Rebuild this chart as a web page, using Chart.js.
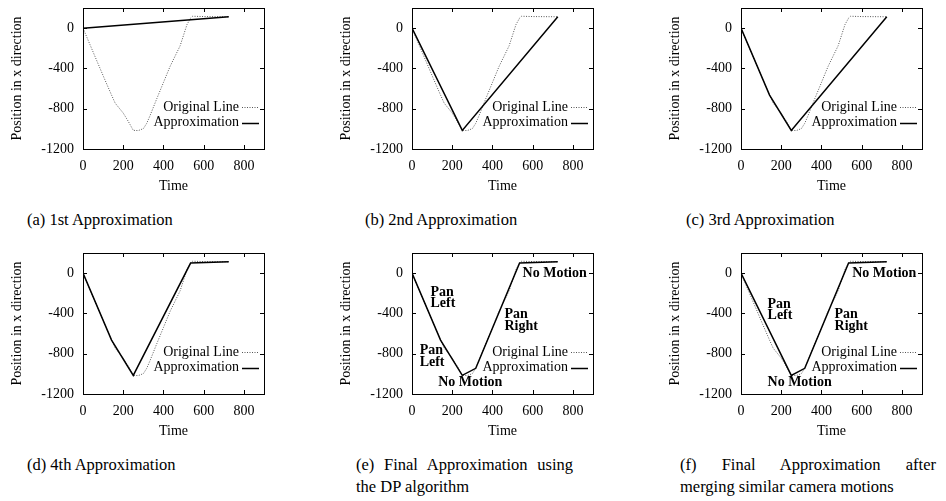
<!DOCTYPE html>
<html><head><meta charset="utf-8">
<script src="https://cdn.jsdelivr.net/npm/chart.js@4.4.0/dist/chart.umd.min.js"></script>
<style>
html,body{margin:0;padding:0;background:#fff;}
body{width:946px;height:501px;overflow:hidden;position:relative;font-family:"Liberation Serif","Times New Roman",serif;color:#000;}
canvas{position:absolute;}
.cap{position:absolute;font-size:16.5px;line-height:22px;white-space:nowrap;}
.just{text-align:justify;text-align-last:justify;white-space:normal;}
</style></head><body>
<canvas id="ca" width="288" height="195" style="left:0px;top:0px"></canvas>
<canvas id="cb" width="288" height="195" style="left:329px;top:0px"></canvas>
<canvas id="cc" width="288" height="195" style="left:658px;top:0px"></canvas>
<canvas id="cd" width="288" height="195" style="left:0px;top:245px"></canvas>
<canvas id="ce" width="288" height="195" style="left:329px;top:245px"></canvas>
<canvas id="cf" width="288" height="195" style="left:658px;top:245px"></canvas>

<div class="cap" style="left:27px;top:209px">(a) 1st Approximation</div>
<div class="cap" style="left:365px;top:209px">(b) 2nd Approximation</div>
<div class="cap" style="left:686px;top:209px">(c) 3rd Approximation</div>
<div class="cap" style="left:27px;top:454px">(d) 4th Approximation</div>
<div class="cap just" style="left:356px;top:454px;width:217px">(e) Final Approximation using</div>
<div class="cap" style="left:356px;top:476px">the DP algorithm</div>
<div class="cap just" style="left:680px;top:454px;width:256px">(f) Final Approximation after</div>
<div class="cap" style="left:680px;top:476px">merging similar camera motions</div>

<script>
// ---- data ----
const xTicks = [0, 200, 400, 600, 800];
const yTicks = [-1200, -800, -400, 0];
const seriesNames = ['Original Line', 'Approximation'];

const origX = [0, 35, 70, 105, 142, 160, 200, 225, 250, 275, 300, 317, 333, 367, 400, 433, 483, 517, 535, 545, 600, 725];
const origY = [0, -165, -330, -495, -665, -745, -843, -925, -1015, -1017, -998, -945, -870, -700, -540, -380, -175, 35, 100, 118, 115, 113];

const approxAX = [0, 725];
const approxAY = [0, 113];
const approxBX = [0, 250, 725];
const approxBY = [0, -1015, 113];
const approxCX = [0, 142, 250, 725];
const approxCY = [0, -665, -1015, 113];
const approxDX = [0, 142, 250, 535, 725];
const approxDY = [0, -665, -1015, 100, 113];
const approxEX = [0, 142, 250, 317, 535, 725];
const approxEY = [0, -665, -1015, -945, 100, 113];
const approxFX = [0, 250, 317, 535, 725];
const approxFY = [0, -1015, -945, 100, 113];

const labelsE = ['Pan', 'Left', 'Pan', 'Left', 'No Motion', 'Pan', 'Right', 'No Motion'];
const labelsEX = [92, 92, 38, 38, 130, 460, 460, 550];
const labelsEY = [-187, -303, -770, -883, -1087, -410, -527, -3];
const labelsF = ['Pan', 'Left', 'Pan', 'Right', 'No Motion', 'No Motion'];
const labelsFX = [132, 132, 465, 465, 553, 132];
const labelsFY = [-310, -420, -410, -527, -3, -1087];

// legend rows (data y of row centres)
const legendRowY = [-787, -937];

// ---- drawing ----
const FONT = '"Liberation Serif","Times New Roman",serif';

const framePlugin = {
  id: 'frame',
  afterDraw(chart) {
    const {ctx, chartArea: a, scales: {x, y}} = chart;
    ctx.save();
    ctx.strokeStyle = '#000';
    ctx.lineWidth = 1;
    ctx.beginPath();
    const L = 4;
    xTicks.forEach(v => {
      const px = Math.round(x.getPixelForValue(v)) + 0.5;
      ctx.moveTo(px, a.bottom); ctx.lineTo(px, a.bottom - L);
      ctx.moveTo(px, a.top); ctx.lineTo(px, a.top + L);
    });
    yTicks.forEach(v => {
      const py = Math.round(y.getPixelForValue(v)) + 0.5;
      ctx.moveTo(a.left, py); ctx.lineTo(a.left + L, py);
      ctx.moveTo(a.right, py); ctx.lineTo(a.right - L, py);
    });
    ctx.stroke();
    ctx.strokeRect(Math.round(a.left) + 0.5, Math.round(a.top) + 0.5,
      Math.round(a.right - a.left), Math.round(a.bottom - a.top));
    ctx.restore();
  }
};

const legendPlugin = {
  id: 'gpLegend',
  afterDraw(chart) {
    const {ctx, chartArea: a, scales: {y}} = chart;
    ctx.save();
    ctx.font = '14px ' + FONT;
    ctx.fillStyle = '#000';
    ctx.textAlign = 'right';
    ctx.textBaseline = 'middle';
    chart.data.datasets.forEach((ds, i) => {
      const py = y.getPixelForValue(legendRowY[i]);
      ctx.fillText(ds.label, a.right - 25, py);
      ctx.beginPath();
      ctx.strokeStyle = ds.borderColor;
      ctx.lineWidth = ds.borderWidth;
      ctx.setLineDash(ds.borderDash || []);
      ctx.moveTo(a.right - 22, Math.round(py) + 0.5);
      ctx.lineTo(a.right - 5, Math.round(py) + 0.5);
      ctx.stroke();
    });
    ctx.restore();
  }
};

const textPlugin = {
  id: 'motionText',
  afterDatasetsDraw(chart, args, opts) {
    if (!opts.texts) return;
    const {ctx, scales: {x, y}} = chart;
    ctx.save();
    ctx.font = 'bold 14px ' + FONT;
    ctx.fillStyle = '#000';
    ctx.textAlign = 'left';
    ctx.textBaseline = 'middle';
    opts.texts.forEach((t, i) => {
      ctx.fillText(t, x.getPixelForValue(opts.xs[i]), y.getPixelForValue(opts.ys[i]));
    });
    ctx.restore();
  }
};

function pts(xs, ys) { return xs.map((v, i) => ({x: v, y: ys[i]})); }

function makeChart(id, ax, ay, texts, tx, ty) {
  new Chart(document.getElementById(id), {
    type: 'line',
    data: {
      datasets: [
        {label: seriesNames[0], data: pts(origX, origY), borderColor: '#555', borderWidth: 1,
         borderDash: [1, 1.5], pointRadius: 0, tension: 0, order: 2, fill: false},
        {label: seriesNames[1], data: pts(ax, ay), borderColor: '#000', borderWidth: 1.5,
         pointRadius: 0, tension: 0, order: 1, fill: false}
      ]
    },
    options: {
      responsive: false, animation: false, devicePixelRatio: 1,
      layout: {padding: {left: 0, right: 24, top: 8, bottom: 0}},
      plugins: {
        legend: {display: false}, tooltip: {enabled: false},
        motionText: {texts: texts, xs: tx, ys: ty}
      },
      scales: {
        x: {
          type: 'linear', min: 0, max: 900,
          grid: {display: false, drawTicks: false}, border: {display: false},
          afterBuildTicks: s => { s.ticks = xTicks.map(v => ({value: v})); },
          afterFit: s => { s.height = 46; s.paddingLeft = 0; s.paddingRight = 0; },
          ticks: {padding: 9, color: '#000', autoSkip: false, maxRotation: 0,
                  font: {family: FONT, size: 14}, callback: v => String(v)},
          title: {display: true, text: 'Time', color: '#000', font: {family: FONT, size: 14}, padding: {top: 0, bottom: 0}}
        },
        y: {
          type: 'linear', min: -1200, max: 200,
          grid: {display: false, drawTicks: false}, border: {display: false},
          afterBuildTicks: s => { s.ticks = yTicks.map(v => ({value: v})); },
          afterFit: s => { s.width = 83; s.paddingTop = 0; s.paddingBottom = 0; },
          ticks: {padding: 9, color: '#000', font: {family: FONT, size: 14}, callback: v => String(v)},
          title: {display: true, text: 'Position in x direction', color: '#000', font: {family: FONT, size: 14}, padding: {top: 9, bottom: 0}}
        }
      }
    },
    plugins: [framePlugin, legendPlugin, textPlugin]
  });
}

makeChart('ca', approxAX, approxAY, null, null, null);
makeChart('cb', approxBX, approxBY, null, null, null);
makeChart('cc', approxCX, approxCY, null, null, null);
makeChart('cd', approxDX, approxDY, null, null, null);
makeChart('ce', approxEX, approxEY, labelsE, labelsEX, labelsEY);
makeChart('cf', approxFX, approxFY, labelsF, labelsFX, labelsFY);
</script>
</body></html>
